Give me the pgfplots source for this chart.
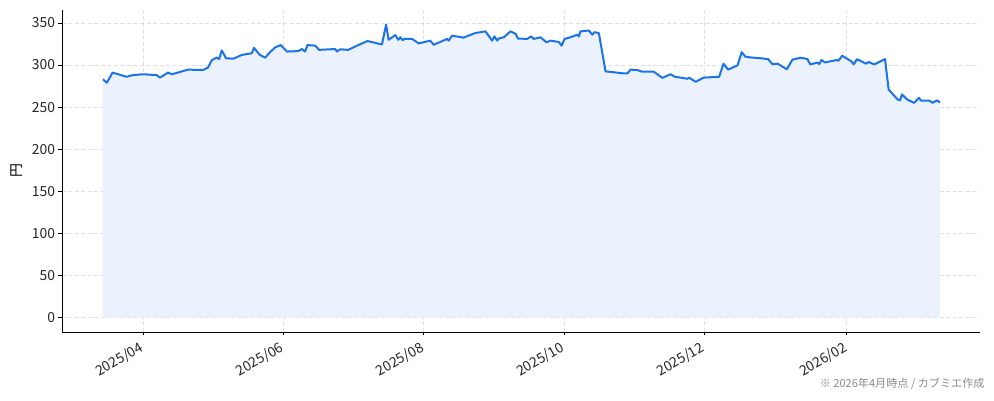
\documentclass[border=0pt]{standalone}
\usepackage{fontspec}
\setmainfont{Noto Sans CJK JP}
\usepackage{pgfplots}
\usepackage{pgfplotstable}
\pgfplotsset{compat=1.18}
\usepgfplotslibrary{fillbetween}

\definecolor{lineblue}{HTML}{1A73E8}
\definecolor{fillblue}{HTML}{EBF2FD}
\definecolor{gridgray}{HTML}{DEDEE3}
\definecolor{notegray}{HTML}{8A8A8A}

% days since 2025-04-01, closing price (yen)
\pgfplotstableread{
day price
-17.4 283
-15.7 279
-13.2 291
-7.1 286
-4.4 288
0.0 289
6.0 288
7.4 285
10.9 291
12.6 289
13.9 290
19.6 294.5
26.1 294
28.3 297
29.9 305.6
32.1 309
33.1 307
34.3 317.4
36.1 308
39.2 307.5
43.0 312
47.3 314
48.3 320.5
50.6 312.5
53.1 308.7
55.3 315.4
57.5 321
59.9 323.7
62.6 316
67.5 316.5
69.1 319
70.5 316
71.5 323.7
74.9 323
76.6 318
83.6 319
84.3 316
85.8 318.7
89.2 318
92.3 322
95.9 326.5
97.7 328.5
102.9 325
103.9 324.5
105.7 348
106.8 330
109.7 335.6
111.0 330
111.9 333
112.9 329.5
113.6 331
117.0 331
119.9 325.7
124.9 329
126.4 324
132.2 331
132.9 329
134.4 334.8
139.4 332.6
141.6 335
144.5 338
148.9 340
151.8 329
152.8 334
154.0 329
154.7 331.5
156.9 333
159.8 340
162.0 337
163.0 331.5
167.0 331
168.8 334
169.9 331
172.8 333
175.4 327
177.2 329
180.8 327.3
182.0 323
183.3 331
185.9 333
188.8 336
189.5 334
190.2 340
193.9 341
195.3 336
196.3 339
198.2 338
201.1 292.5
209.1 290
210.6 290
212.0 294.5
214.9 294
217.1 292
222.1 292
225.8 284.7
229.4 289
231.2 286
233.8 285
236.7 283.6
237.4 285
240.3 280
243.7 285
250.5 286
252.4 301.6
254.4 294.5
258.5 299.7
260.3 315.4
261.8 310
265.0 308.7
267.1 308.5
271.8 307
273.7 300.8
275.9 301.6
279.9 295
282.4 306.4
286.0 308.7
288.2 307.5
288.9 307
290.1 300.7
293.3 303
294.0 301
295.0 306
296.5 303
301.7 306
302.3 305
304.0 311
307.8 304.7
309.0 300.7
310.4 307
314.3 301.6
315.5 303.5
317.9 300.7
322.6 307
324.2 270.8
328.1 259
329.1 258
330.0 265
332.2 259
335.3 255
337.3 261
338.3 257.6
341.9 257.6
343.3 255
345.2 258
346.5 255.5
}\prices

\pgfplotstableread{
day price
-17.4 0
346.5 0
}\baseline

\begin{document}
\begin{tikzpicture}[x=1pt,y=1pt]
\begin{axis}[
    at={(0,0)}, anchor=south west,
    width=918pt, height=322pt, scale only axis,
    xmin=-35.2, xmax=363.9,
    ymin=-17.4, ymax=365.4,
    axis x line*=bottom, axis y line*=left,
    axis line style={line width=0.8pt, black},
    xtick={0,61,122,183,244,306},
    xticklabels={2025/04,2025/06,2025/08,2025/10,2025/12,2026/02},
    ytick={0,50,...,350},
    tick align=outside,
    major tick length=3.5pt,
    tick style={line width=0.8pt, black},
    grid=major,
    grid style={gridgray, line width=0.8pt, dash pattern=on 4pt off 2.5pt},
    /pgf/number format/assume math mode=true,
    tick label style={font=\fontsize{13.9}{16}\selectfont, text=black!85},
    xticklabel style={rotate=30, anchor=north east, xshift=-3pt, yshift=1pt},
    ylabel={円},
    ylabel style={xshift=0pt, yshift=2pt},
    label style={font=\fontsize{13.9}{16}\selectfont},
]
    \addplot[draw=none, name path=base] table {\baseline};
    \addplot[draw=none, name path=price, forget plot] table {\prices};
    \addplot[fill=fillblue, draw=none] fill between[of=price and base];
    \addplot[lineblue, line width=2pt, line join=round] table {\prices};
\end{axis}
\node[anchor=base east, text=notegray, font=\fontsize{11.1}{13}\selectfont]
    at (926,-56) {※ 2026年4月時点 / カブミエ作成};
\pgfresetboundingbox
\useasboundingbox (-62,-69) rectangle (932,332);
\end{tikzpicture}
\end{document}
